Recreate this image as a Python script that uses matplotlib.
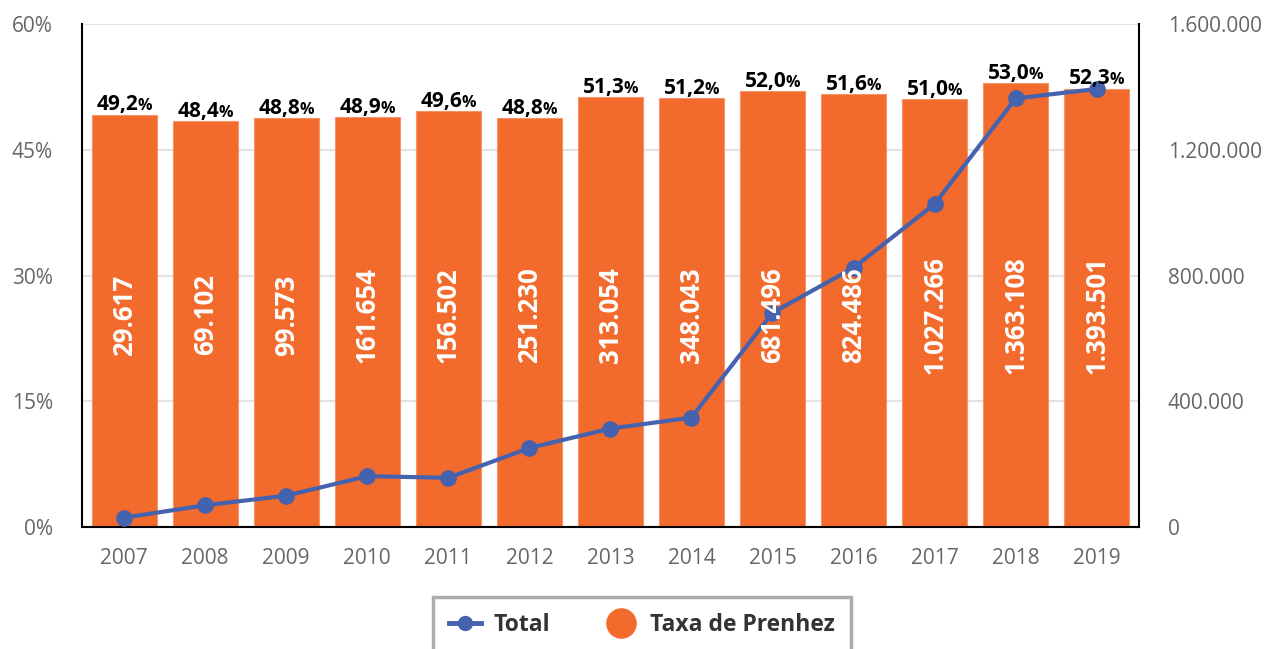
import matplotlib.pyplot as plt
from matplotlib.lines import Line2D
from matplotlib.ticker import FuncFormatter

plt.rcParams["font.family"] = ["Open Sans", "DejaVu Sans"]

years = ["2007", "2008", "2009", "2010", "2011", "2012", "2013",
         "2014", "2015", "2016", "2017", "2018", "2019"]
taxa_prenhez = [49.2, 48.4, 48.8, 48.9, 49.6, 48.8, 51.3, 51.2, 52.0, 51.6, 51.0, 53.0, 52.3]
total = [29617, 69102, 99573, 161654, 156502, 251230, 313054,
         348043, 681496, 824486, 1027266, 1363108, 1393501]

orange = "#F26A2C"
blue = "#4562AE"
tick_grey = "#666666"


def fmt_thousands(v):
    return f"{int(v):,}".replace(",", ".")


fig, ax = plt.subplots(figsize=(12.71, 6.49), dpi=100)
fig.subplots_adjust(left=0.0645, right=0.896, top=0.963, bottom=0.188)

x = list(range(len(years)))
ax.bar(x, taxa_prenhez, width=0.8, color=orange, edgecolor="#F5936A", linewidth=0.8, zorder=2)
ax.set_xlim(-0.52, len(years) - 0.48)
ax.set_ylim(0, 60)
ax.set_yticks([0, 15, 30, 45, 60])
ax.yaxis.set_major_formatter(FuncFormatter(lambda v, p: f"{int(v)}%"))
ax.set_xticks(x)
ax.set_xticklabels(years)
ax.grid(axis="y", color="#e3e3e3", linewidth=1.5, zorder=0)
ax.set_axisbelow(True)
ax.tick_params(axis="y", length=0, pad=21, labelsize=15, labelcolor=tick_grey)
ax.tick_params(axis="x", length=0, pad=15, labelsize=15, labelcolor=tick_grey)
for side in ["left", "bottom"]:
    ax.spines[side].set_color("black")
    ax.spines[side].set_linewidth(1.5)
ax.spines["top"].set_visible(False)
ax.spines["right"].set_visible(False)

ax2 = ax.twinx()
ax2.plot(x, total, color=blue, linewidth=3, marker="o", markersize=11, zorder=3)
ax2.set_ylim(0, 1600000)
ax2.set_yticks([0, 400000, 800000, 1200000, 1600000])
ax2.yaxis.set_major_formatter(FuncFormatter(lambda v, p: fmt_thousands(v)))
ax2.tick_params(axis="y", length=0, pad=21, labelsize=15, labelcolor=tick_grey)
ax2.spines["right"].set_color("black")
ax2.spines["right"].set_linewidth(1.5)
ax2.spines["top"].set_visible(False)
ax2.spines["left"].set_visible(False)
ax2.spines["bottom"].set_visible(False)

# labels drawn on ax2 so they sit above the line
for i, (p, t) in enumerate(zip(taxa_prenhez, total)):
    num = ax2.annotate(f"{p:.1f}".replace(".", ","), xy=(i - 0.08, p), xycoords=ax.transData,
                       xytext=(0, 3), textcoords="offset points", ha="center", va="baseline",
                       fontsize=15, fontweight="bold", color="black", zorder=5)
    ax2.annotate("%", xy=(1, p), xycoords=(num, ax.transData),
                 xytext=(-1, 3), textcoords="offset points", ha="left", va="baseline",
                 fontsize=11.5, fontweight="bold", color="black", zorder=5)
    ax2.text(i, 25.3, fmt_thousands(t), transform=ax.transData, rotation=90,
             ha="center", va="center", fontsize=18.5, fontweight="bold", color="white", zorder=5)

handles = [
    Line2D([], [], color=blue, linewidth=3.5, marker="o", markersize=10),
    Line2D([], [], color=orange, linestyle="none", marker="o", markersize=21),
]
leg = fig.legend(handles, ["Total", "Taxa de Prenhez"], loc="upper center",
                 bbox_to_anchor=(0.505, 0.080), ncol=2, frameon=True, fancybox=False,
                 prop={"weight": "bold", "size": 16.5}, handlelength=1.4, columnspacing=2.4,
                 borderpad=0.7, borderaxespad=0, handletextpad=0.55)
for txt in leg.get_texts():
    txt.set_color("#333333")
leg.get_frame().set_edgecolor("#999999")
leg.get_frame().set_linewidth(2.5)

fig.savefig("out.png", dpi=100)
